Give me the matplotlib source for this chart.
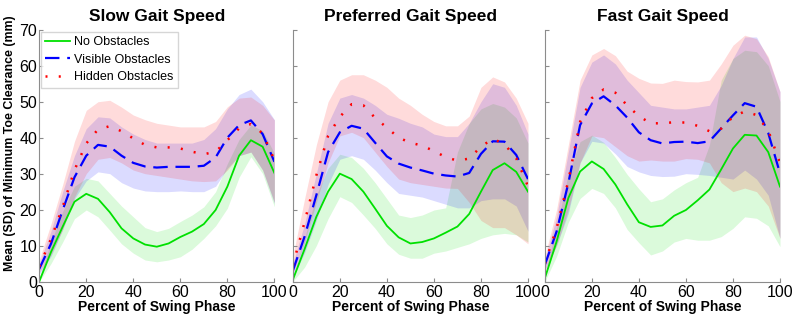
import matplotlib
matplotlib.use("Agg")
import matplotlib.pyplot as plt

plt.rcParams["font.family"] = ["Liberation Sans", "DejaVu Sans"]

# percent of swing phase
x_pct = list(range(0, 101, 5))

# --- Slow gait speed: mean and band (lower / upper) per condition, mm ---
slow_none_mean = [0, 8.2, 15.3, 22.2, 24.4, 23.0, 19.3, 14.8, 12.0, 10.3, 9.7, 10.6, 12.4, 13.9, 16.0, 19.9, 26.4, 35.0, 39.3, 37.5, 30.2]
slow_none_lo = [0, 5.0, 11.0, 17.5, 19.9, 18.0, 14.3, 10.5, 7.9, 6.0, 5.5, 6.0, 6.9, 9.0, 12.0, 15.5, 20.4, 29.0, 34.7, 30.0, 20.8]
slow_none_hi = [1.0, 11.0, 19.5, 26.5, 28.7, 28.0, 24.5, 21.0, 18.0, 15.0, 13.9, 14.8, 16.7, 18.5, 20.8, 25.0, 32.8, 39.5, 43.5, 42.0, 35.6]
slow_vis_mean = [3.5, 10.5, 19.9, 29.0, 35.0, 38.0, 37.5, 35.0, 33.0, 32.0, 31.7, 31.9, 31.9, 31.9, 32.2, 34.5, 40.0, 43.5, 44.8, 41.0, 33.3]
slow_vis_lo = [2.0, 7.0, 14.5, 23.0, 28.0, 30.5, 30.0, 27.5, 26.0, 25.2, 25.0, 25.0, 25.2, 25.0, 25.0, 26.5, 31.5, 35.0, 36.0, 31.0, 21.7]
slow_vis_hi = [5.0, 14.0, 25.0, 35.0, 42.5, 45.8, 45.5, 43.0, 41.0, 39.5, 38.5, 38.5, 38.5, 38.5, 39.5, 42.5, 48.0, 52.0, 53.5, 50.0, 45.0]
slow_hid_mean = [4.2, 11.8, 20.8, 31.0, 38.4, 42.3, 43.2, 41.8, 39.8, 38.0, 37.3, 37.3, 37.0, 36.1, 35.4, 36.1, 39.3, 42.6, 43.8, 41.2, 33.8]
slow_hid_lo = [2.5, 7.5, 14.5, 23.5, 30.0, 34.0, 34.5, 33.0, 31.0, 30.0, 29.5, 29.0, 28.5, 28.0, 27.8, 28.0, 31.0, 35.0, 36.0, 31.0, 22.0]
slow_hid_hi = [6.0, 16.0, 27.0, 39.0, 47.6, 50.0, 50.4, 48.5, 46.3, 45.0, 44.0, 43.5, 43.0, 43.0, 43.0, 44.5, 48.6, 51.0, 51.3, 49.0, 44.9]

# --- Preferred gait speed ---
pref_none_mean = [0.5, 9.0, 18.0, 25.0, 30.0, 28.5, 25.0, 20.3, 15.5, 12.3, 10.6, 11.0, 12.0, 13.6, 15.3, 18.8, 25.0, 31.0, 32.9, 30.5, 25.0]
pref_none_lo = [0, 4.0, 10.0, 17.5, 23.6, 22.0, 18.5, 14.8, 10.5, 7.6, 6.5, 6.5, 7.9, 8.5, 9.5, 10.5, 12.0, 13.0, 13.4, 13.0, 11.0]
pref_none_hi = [1.0, 12.0, 24.0, 31.5, 35.4, 34.5, 31.5, 27.5, 23.0, 18.5, 17.8, 18.5, 19.9, 20.5, 36.0, 44.0, 48.0, 49.5, 48.5, 45.5, 38.5]
pref_vis_mean = [3.0, 12.5, 24.0, 36.0, 41.5, 43.3, 42.5, 38.6, 34.8, 32.8, 31.7, 30.9, 30.0, 29.5, 29.2, 30.2, 35.5, 39.0, 38.9, 35.2, 28.5]
pref_vis_lo = [1.0, 8.0, 17.0, 27.0, 34.0, 35.0, 34.0, 31.0, 27.5, 24.5, 24.0, 23.5, 22.5, 21.5, 20.5, 20.5, 22.5, 23.0, 23.0, 21.0, 14.0]
pref_vis_hi = [5.0, 16.0, 30.0, 44.0, 51.0, 52.0, 51.0, 49.0, 46.5, 45.4, 44.0, 43.0, 41.0, 40.3, 40.3, 44.0, 50.0, 55.0, 54.0, 49.0, 41.0]
pref_hid_mean = [4.5, 16.5, 29.5, 40.5, 45.8, 49.3, 49.0, 45.5, 42.8, 40.0, 38.6, 37.8, 36.3, 34.6, 33.6, 34.2, 37.5, 39.7, 38.2, 34.3, 26.5]
pref_hid_lo = [2.0, 11.0, 22.0, 33.0, 40.5, 41.5, 40.0, 36.0, 32.0, 28.5, 27.5, 27.0, 26.5, 26.0, 25.9, 22.0, 17.0, 15.0, 15.0, 13.0, 10.5]
pref_hid_hi = [7.0, 23.0, 38.0, 50.0, 56.0, 57.5, 57.5, 56.0, 54.0, 51.0, 49.0, 46.5, 44.5, 43.3, 43.3, 46.0, 54.0, 56.9, 55.5, 51.0, 44.0]

# --- Fast gait speed ---
fast_none_mean = [0.9, 11.1, 23.2, 30.6, 33.4, 31.3, 27.0, 21.5, 16.5, 15.2, 15.6, 18.3, 19.9, 22.6, 25.6, 31.2, 37.0, 40.8, 40.6, 36.0, 26.4]
fast_none_lo = [0, 7.0, 16.5, 23.1, 25.9, 24.5, 20.5, 14.5, 10.8, 7.4, 8.5, 11.0, 12.0, 11.5, 11.5, 12.5, 14.8, 18.0, 17.6, 15.5, 9.7]
fast_none_hi = [2.0, 15.0, 30.0, 38.9, 40.7, 38.7, 34.5, 29.8, 25.8, 22.2, 23.0, 25.5, 27.5, 29.0, 38.0, 56.0, 62.0, 64.3, 63.9, 60.0, 50.0]
fast_vis_mean = [4.6, 13.9, 27.3, 43.5, 49.5, 51.5, 49.0, 45.6, 41.5, 39.3, 38.4, 38.8, 38.9, 38.5, 39.0, 42.6, 46.2, 49.6, 48.6, 41.3, 30.1]
fast_vis_lo = [3.0, 10.0, 19.0, 33.0, 39.0, 38.5, 35.5, 32.0, 30.5, 29.5, 29.2, 29.3, 30.0, 29.8, 29.5, 29.0, 28.5, 31.0, 28.5, 24.0, 12.0]
fast_vis_hi = [6.0, 18.0, 36.0, 54.0, 61.0, 63.0, 60.5, 56.0, 52.5, 49.0, 48.5, 48.0, 48.0, 48.5, 49.0, 54.5, 62.0, 68.0, 68.0, 62.0, 52.8]
fast_hid_mean = [5.0, 14.8, 28.0, 44.4, 51.0, 53.4, 52.5, 49.0, 46.0, 44.0, 44.0, 44.3, 44.2, 43.3, 41.8, 42.5, 45.8, 47.3, 46.3, 42.0, 33.0]
fast_hid_lo = [3.0, 10.0, 20.0, 33.0, 40.5, 40.0, 37.5, 35.0, 33.5, 33.8, 33.5, 33.5, 34.2, 34.0, 33.0, 27.5, 25.0, 26.0, 25.0, 21.0, 12.0]
fast_hid_hi = [7.0, 20.0, 38.0, 56.0, 63.0, 64.8, 62.8, 58.5, 56.5, 55.2, 55.1, 56.0, 55.6, 55.5, 56.0, 60.5, 65.7, 68.5, 67.5, 62.5, 52.8]

titles = ["Slow Gait Speed", "Preferred Gait Speed", "Fast Gait Speed"]
labels = ["No Obstacles", "Visible Obstacles", "Hidden Obstacles"]

panels = [
    [(slow_none_mean, slow_none_lo, slow_none_hi),
     (slow_vis_mean, slow_vis_lo, slow_vis_hi),
     (slow_hid_mean, slow_hid_lo, slow_hid_hi)],
    [(pref_none_mean, pref_none_lo, pref_none_hi),
     (pref_vis_mean, pref_vis_lo, pref_vis_hi),
     (pref_hid_mean, pref_hid_lo, pref_hid_hi)],
    [(fast_none_mean, fast_none_lo, fast_none_hi),
     (fast_vis_mean, fast_vis_lo, fast_vis_hi),
     (fast_hid_mean, fast_hid_lo, fast_hid_hi)],
]

colors = ["#00e000", "#0000ff", "#ff0000"]
styles = ["-", (0, (6.5, 3.5)), (0, (0.8, 4.5))]
widths = [1.3, 1.6, 1.8]
axis_grey = "#8c8c8c"

fig = plt.figure(figsize=(8, 3.2), dpi=100)
lefts = [0.049, 0.366, 0.681]

for i, (title, series) in enumerate(zip(titles, panels)):
    ax = fig.add_axes([lefts[i], 0.12, 0.294, 0.787])
    # shaded SD bands first, then the means on top
    for (mean, lo, hi), c in zip(series, colors):
        ax.fill_between(x_pct, lo, hi, color=c, alpha=0.14, linewidth=0)
    for (mean, lo, hi), c, ls, lw, lab in zip(series, colors, styles, widths, labels):
        ax.plot(x_pct, mean, color=c, linestyle=ls, linewidth=lw, label=lab)

    ax.set_xlim(0, 100)
    ax.set_ylim(0, 70)
    ax.set_xticks(range(0, 101, 20))
    ax.set_yticks(range(0, 71, 10))
    for side in ("top", "right"):
        ax.spines[side].set_visible(False)
    for side in ("left", "bottom"):
        ax.spines[side].set_color(axis_grey)
        ax.spines[side].set_linewidth(0.8)
    ax.tick_params(direction="in", length=3, color=axis_grey, labelsize=11.5)
    ax.tick_params(axis="x", pad=2.5)
    ax.tick_params(axis="y", pad=1.5)
    if i > 0:
        ax.tick_params(labelleft=False)
    else:
        ax.set_ylabel("Mean (SD) of Minimum Toe Clearance (mm)", fontsize=8.9,
                      fontweight="bold")
        ax.yaxis.set_label_coords(-0.1, 0.55)
        ax.legend(loc="upper left", fontsize=9, frameon=True, fancybox=False,
                  edgecolor="#cccccc", handlelength=2.0, handletextpad=0.3,
                  borderpad=0.35, labelspacing=0.45, borderaxespad=0.15)
    ax.set_xlabel("Percent of Swing Phase", fontsize=10, fontweight="bold", labelpad=0)
    ax.set_title(title, fontsize=12.5, fontweight="bold", pad=6)

fig.savefig("out.png", dpi=100)
